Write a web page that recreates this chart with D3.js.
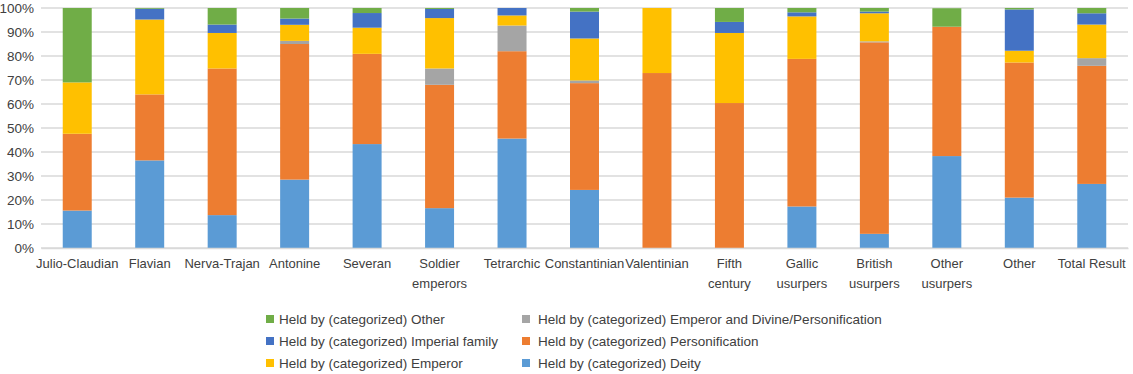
<!DOCTYPE html>
<html>
<head>
<meta charset="utf-8">
<script src="https://cdn.jsdelivr.net/npm/d3@7"></script>
<style>
  body { margin: 0; background: #fff; }
  svg text { font-family: "Liberation Sans", Arial, sans-serif; fill: #404040; }
</style>
</head>
<body>
<svg id="chart"></svg>
<script>
const totalWidth = 1133;
const totalHeight = 374;

const periods = ["Julio-Claudian", "Flavian", "Nerva-Trajan", "Antonine", "Severan", "Soldier emperors",
  "Tetrarchic", "Constantinian", "Valentinian", "Fifth century", "Gallic usurpers", "British usurpers",
  "Other usurpers", "Other", "Total Result"];

// shares in percent, bottom to top
const deity          = [15.6, 36.5, 13.7, 28.5, 43.3, 16.6, 45.6, 24.2, 0, 0, 17.3, 5.9, 38.3, 21.0, 26.7];
const personification = [32.0, 27.5, 61.1, 56.5, 37.6, 51.4, 36.4, 44.5, 72.9, 60.4, 61.5, 79.8, 53.9, 56.3, 49.2];
const emperorDivine  = [0, 0, 0, 1.3, 0, 6.8, 10.7, 1.1, 0, 0, 0, 0.4, 0, 0, 3.2];
const emperor        = [21.4, 31.2, 14.8, 6.7, 10.9, 21.0, 4.2, 17.5, 27.1, 29.2, 17.7, 11.7, 0, 4.9, 14.0];
const imperialFamily = [0, 4.5, 3.5, 2.6, 6.1, 3.8, 3.1, 11.2, 0, 4.6, 1.7, 0.7, 0, 17.2, 4.7];
const other          = [31.0, 0.3, 6.9, 4.4, 2.1, 0.4, 0, 1.5, 0, 5.8, 1.8, 1.5, 7.7, 0.6, 2.2];

const yTicks = [0, 10, 20, 30, 40, 50, 60, 70, 80, 90, 100];

const seriesNames = [
  "Held by (categorized) Deity",
  "Held by (categorized) Personification",
  "Held by (categorized) Emperor and Divine/Personification",
  "Held by (categorized) Emperor",
  "Held by (categorized) Imperial family",
  "Held by (categorized) Other"
];
const seriesColors = ["#5b9bd5", "#ed7d31", "#a5a5a5", "#ffc000", "#4472c4", "#70ad47"];
const seriesValues = [deity, personification, emperorDivine, emperor, imperialFamily, other];

const svg = d3.select("#chart")
  .attr("width", totalWidth)
  .attr("height", totalHeight);

const margin = {left: 41, right: 5, top: 8, bottom: 126};
const plotH = totalHeight - margin.top - margin.bottom;
const fontFamily = "Liberation Sans, Arial, sans-serif";

const x = d3.scaleBand()
  .domain(periods)
  .range([margin.left, totalWidth - margin.right])
  .paddingInner(0.6)
  .paddingOuter(0.3);

const y = d3.scaleLinear()
  .domain([0, 100])
  .range([margin.top + plotH, margin.top]);

// table for stacking
const rows = periods.map((p, i) => {
  const r = {period: p};
  seriesNames.forEach((s, k) => r[s] = seriesValues[k][i]);
  return r;
});
const stack = d3.stack().keys(seriesNames)(rows);

// gridlines
svg.append("g")
  .selectAll("line")
  .data(yTicks)
  .enter()
  .append("line")
  .attr("x1", margin.left)
  .attr("x2", totalWidth - margin.right)
  .attr("y1", d => y(d))
  .attr("y2", d => y(d))
  .style("stroke", "#d9d9d9")
  .style("stroke-width", 1.5);

// y axis labels
const yAxis = svg.append("g")
  .attr("transform", `translate(${margin.left - 7},0)`)
  .call(d3.axisLeft(y).tickValues(yTicks).tickFormat(d => d + "%").tickSize(0).tickPadding(0));
yAxis.select(".domain").remove();
yAxis.selectAll("text")
  .attr("font-size", "13.5px")
  .attr("fill", "#404040")
  .style("font-family", fontFamily);

// bars
svg.append("g")
  .selectAll("g")
  .data(stack)
  .enter()
  .append("g")
  .attr("fill", (d, k) => seriesColors[k])
  .selectAll("rect")
  .data(d => d)
  .enter()
  .append("rect")
  .attr("x", d => x(d.data.period))
  .attr("width", x.bandwidth())
  .attr("y", d => y(d[1]))
  .attr("height", d => Math.max(0, y(d[0]) - y(d[1])));

// x axis
const xAxis = svg.append("g")
  .attr("transform", `translate(0,${y(0)})`)
  .call(d3.axisBottom(x).tickSize(0).tickSizeOuter(0));
xAxis.select(".domain").style("stroke", "#d9d9d9").style("stroke-width", 1.5);
xAxis.selectAll("text")
  .attr("font-size", "13px")
  .attr("fill", "#404040")
  .style("font-family", fontFamily)
  .attr("dy", null)
  .attr("y", 0)
  .each(function(d) {
    const t = d3.select(this);
    const words = d.split(" ");
    t.text(null);
    if (words.length === 2 && d !== "Total Result") {
      t.append("tspan").attr("x", 0).attr("y", 20).text(words[0]);
      t.append("tspan").attr("x", 0).attr("y", 40).text(words[1]);
    } else {
      t.append("tspan").attr("x", 0).attr("y", 20).text(d);
    }
  });

// legend
const legendOrder = [5, 2, 4, 1, 3, 0];
const legend = svg.append("g")
  .selectAll("g")
  .data(legendOrder)
  .enter()
  .append("g")
  .attr("transform", (k, i) => `translate(${i % 2 === 0 ? 266 : 522},${319 + Math.floor(i / 2) * 22})`);

legend.append("rect")
  .attr("x", 0)
  .attr("y", -4)
  .attr("width", 8)
  .attr("height", 8)
  .attr("fill", k => seriesColors[k]);

legend.append("text")
  .attr("x", (k, i) => i % 2 === 0 ? 13 : 16)
  .attr("y", 0)
  .attr("dy", "0.35em")
  .attr("font-size", "13.5px")
  .attr("fill", "#404040")
  .style("font-family", fontFamily)
  .text(k => seriesNames[k]);
</script>
</body>
</html>
